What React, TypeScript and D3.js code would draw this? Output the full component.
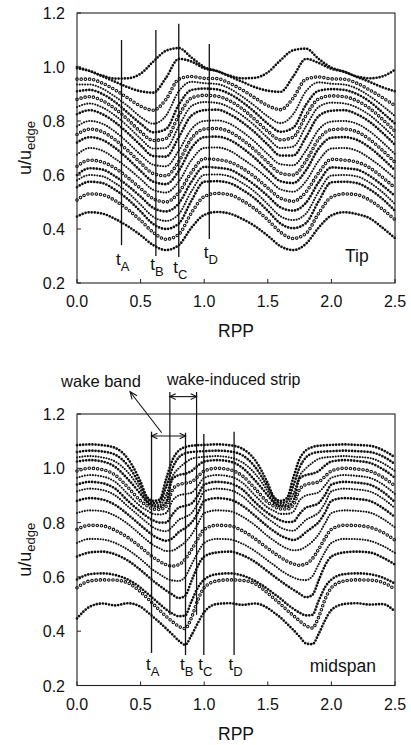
import React from 'react';
import * as d3 from 'd3';

// ---------- data ----------
const tipRpp = [0, 0.1, 0.2, 0.3, 0.4, 0.5, 0.6, 0.7, 0.8, 0.9, 1.0, 1.1, 1.2, 1.3, 1.4, 1.5, 1.6, 1.7, 1.8, 1.9, 2.0, 2.1, 2.2, 2.3, 2.4, 2.5];
const midRpp = [0, 0.1, 0.2, 0.3, 0.4, 0.5, 0.55, 0.6, 0.65, 0.7, 0.75, 0.8, 0.85, 0.9, 0.95, 1.0, 1.1, 1.2, 1.3, 1.4, 1.5, 1.55, 1.6, 1.65, 1.7, 1.75, 1.8, 1.85, 1.9, 1.95, 2.0, 2.1, 2.2, 2.3, 2.4, 2.5];

// Tip (top panel), top to bottom
const tip01 = [1.0, 0.985, 0.968, 0.957, 0.958, 0.975, 1.02, 1.06, 1.07, 1.035, 1.0, 0.985, 0.968, 0.958, 0.96, 0.98, 1.025, 1.062, 1.068, 1.03, 0.998, 0.982, 0.965, 0.958, 0.965, 0.99];
const tip02 = [0.995, 0.985, 0.965, 0.945, 0.925, 0.91, 0.905, 0.96, 1.03, 1.02, 0.995, 0.985, 0.965, 0.945, 0.925, 0.912, 0.908, 0.965, 1.03, 1.015, 0.993, 0.983, 0.963, 0.945, 0.925, 0.91];
const tip03 = [0.955, 0.955, 0.94, 0.915, 0.885, 0.855, 0.84, 0.88, 0.955, 0.965, 0.958, 0.957, 0.94, 0.915, 0.885, 0.857, 0.842, 0.885, 0.955, 0.963, 0.956, 0.955, 0.94, 0.915, 0.887, 0.857];
const tip04 = [0.935, 0.935, 0.92, 0.89, 0.855, 0.815, 0.79, 0.82, 0.91, 0.945, 0.94, 0.937, 0.92, 0.89, 0.855, 0.817, 0.792, 0.825, 0.91, 0.943, 0.938, 0.935, 0.92, 0.892, 0.857, 0.818];
const tip05 = [0.91, 0.915, 0.9, 0.87, 0.83, 0.79, 0.758, 0.77, 0.86, 0.915, 0.92, 0.917, 0.9, 0.87, 0.832, 0.79, 0.76, 0.775, 0.86, 0.912, 0.918, 0.915, 0.9, 0.872, 0.832, 0.79];
const tip06 = [0.88, 0.89, 0.875, 0.845, 0.805, 0.76, 0.728, 0.735, 0.82, 0.885, 0.895, 0.892, 0.875, 0.845, 0.805, 0.762, 0.73, 0.74, 0.82, 0.882, 0.893, 0.89, 0.875, 0.847, 0.807, 0.762];
const tip07 = [0.852, 0.865, 0.85, 0.82, 0.78, 0.735, 0.698, 0.7, 0.78, 0.855, 0.87, 0.867, 0.85, 0.82, 0.782, 0.737, 0.7, 0.705, 0.78, 0.852, 0.868, 0.865, 0.85, 0.822, 0.782, 0.737];
const tip08 = [0.825, 0.84, 0.825, 0.795, 0.755, 0.71, 0.67, 0.668, 0.74, 0.82, 0.84, 0.842, 0.825, 0.795, 0.757, 0.712, 0.672, 0.672, 0.74, 0.818, 0.838, 0.84, 0.825, 0.797, 0.757, 0.712];
const tip09 = [0.78, 0.8, 0.79, 0.76, 0.72, 0.675, 0.638, 0.632, 0.69, 0.77, 0.8, 0.802, 0.79, 0.76, 0.722, 0.677, 0.64, 0.636, 0.69, 0.768, 0.798, 0.8, 0.79, 0.762, 0.722, 0.677];
const tip10 = [0.75, 0.77, 0.76, 0.73, 0.69, 0.645, 0.605, 0.597, 0.65, 0.735, 0.77, 0.772, 0.76, 0.73, 0.692, 0.647, 0.607, 0.6, 0.652, 0.733, 0.768, 0.77, 0.76, 0.732, 0.692, 0.647];
const tip11 = [0.72, 0.74, 0.73, 0.7, 0.66, 0.615, 0.575, 0.566, 0.615, 0.7, 0.74, 0.742, 0.73, 0.7, 0.662, 0.617, 0.577, 0.57, 0.617, 0.698, 0.738, 0.74, 0.73, 0.702, 0.662, 0.617];
const tip12 = [0.675, 0.7, 0.69, 0.66, 0.625, 0.585, 0.545, 0.535, 0.575, 0.655, 0.7, 0.702, 0.69, 0.66, 0.627, 0.587, 0.547, 0.538, 0.577, 0.653, 0.698, 0.7, 0.69, 0.662, 0.627, 0.587];
const tip13 = [0.632, 0.655, 0.648, 0.625, 0.59, 0.55, 0.512, 0.5, 0.535, 0.61, 0.66, 0.657, 0.648, 0.625, 0.592, 0.552, 0.514, 0.503, 0.537, 0.608, 0.658, 0.655, 0.648, 0.627, 0.592, 0.552];
const tip14 = [0.6, 0.625, 0.62, 0.595, 0.56, 0.52, 0.478, 0.465, 0.495, 0.575, 0.63, 0.627, 0.62, 0.595, 0.562, 0.522, 0.48, 0.468, 0.497, 0.573, 0.628, 0.625, 0.62, 0.597, 0.562, 0.522];
const tip15 = [0.58, 0.6, 0.595, 0.57, 0.535, 0.49, 0.445, 0.43, 0.455, 0.54, 0.6, 0.602, 0.595, 0.57, 0.537, 0.492, 0.447, 0.433, 0.457, 0.538, 0.598, 0.6, 0.595, 0.572, 0.537, 0.492];
const tip16 = [0.555, 0.575, 0.57, 0.545, 0.51, 0.465, 0.418, 0.4, 0.42, 0.505, 0.575, 0.577, 0.57, 0.545, 0.512, 0.467, 0.42, 0.403, 0.422, 0.503, 0.573, 0.575, 0.57, 0.547, 0.512, 0.467];
const tip17 = [0.507, 0.53, 0.527, 0.505, 0.472, 0.432, 0.387, 0.362, 0.38, 0.46, 0.52, 0.532, 0.527, 0.505, 0.474, 0.434, 0.388, 0.365, 0.383, 0.458, 0.518, 0.53, 0.527, 0.507, 0.474, 0.434];
const tip18 = [0.446, 0.462, 0.457, 0.437, 0.41, 0.377, 0.34, 0.322, 0.34, 0.405, 0.452, 0.463, 0.457, 0.437, 0.41, 0.375, 0.336, 0.322, 0.345, 0.405, 0.45, 0.462, 0.455, 0.44, 0.405, 0.366];

// Midspan (bottom panel), top to bottom
const mid01 = [1.085, 1.088, 1.085, 1.075, 1.035, 0.95, 0.895, 0.88, 0.885, 0.96, 1.03, 1.065, 1.078, 1.083, 1.085, 1.086, 1.088, 1.085, 1.072, 1.03, 0.945, 0.893, 0.88, 0.89, 0.965, 1.035, 1.066, 1.078, 1.083, 1.085, 1.086, 1.088, 1.086, 1.083, 1.068, 1.04];
const mid02 = [1.06, 1.065, 1.062, 1.05, 1.01, 0.935, 0.89, 0.872, 0.875, 0.93, 1.0, 1.04, 1.055, 1.06, 1.062, 1.063, 1.065, 1.062, 1.048, 1.005, 0.93, 0.888, 0.872, 0.878, 0.935, 1.003, 1.04, 1.055, 1.06, 1.062, 1.063, 1.065, 1.063, 1.06, 1.045, 1.015];
const mid03 = [1.04, 1.045, 1.04, 1.025, 0.985, 0.92, 0.88, 0.865, 0.865, 0.9, 0.97, 1.0, 1.02, 1.035, 1.04, 1.042, 1.045, 1.04, 1.022, 0.98, 0.915, 0.878, 0.865, 0.867, 0.905, 0.972, 1.0, 1.02, 1.035, 1.04, 1.042, 1.045, 1.042, 1.038, 1.02, 0.99];
const mid04 = [1.025, 1.03, 1.025, 1.005, 0.96, 0.905, 0.875, 0.86, 0.858, 0.875, 0.96, 0.975, 0.98, 0.99, 1.01, 1.025, 1.03, 1.025, 1.002, 0.955, 0.9, 0.872, 0.86, 0.86, 0.88, 0.962, 0.975, 0.98, 0.99, 1.01, 1.025, 1.03, 1.027, 1.02, 0.998, 0.965];
const mid05 = [0.99, 1.0, 0.995, 0.975, 0.93, 0.88, 0.862, 0.85, 0.848, 0.86, 0.92, 0.94, 0.945, 0.95, 0.97, 0.99, 1.0, 0.995, 0.972, 0.925, 0.875, 0.86, 0.85, 0.85, 0.865, 0.922, 0.94, 0.945, 0.95, 0.97, 0.99, 1.0, 0.997, 0.99, 0.968, 0.935];
const mid06 = [0.965, 0.975, 0.97, 0.95, 0.905, 0.86, 0.845, 0.832, 0.83, 0.835, 0.88, 0.9, 0.905, 0.91, 0.935, 0.965, 0.975, 0.97, 0.947, 0.9, 0.855, 0.843, 0.832, 0.832, 0.84, 0.882, 0.9, 0.905, 0.912, 0.937, 0.965, 0.975, 0.972, 0.965, 0.942, 0.905];
const mid07 = [0.94, 0.95, 0.945, 0.925, 0.88, 0.84, 0.822, 0.808, 0.8, 0.8, 0.83, 0.855, 0.862, 0.87, 0.9, 0.94, 0.95, 0.945, 0.922, 0.875, 0.835, 0.82, 0.808, 0.802, 0.803, 0.832, 0.855, 0.862, 0.872, 0.902, 0.94, 0.95, 0.947, 0.94, 0.915, 0.875];
const mid08 = [0.915, 0.925, 0.92, 0.9, 0.86, 0.82, 0.8, 0.782, 0.772, 0.768, 0.785, 0.81, 0.82, 0.835, 0.87, 0.915, 0.925, 0.92, 0.897, 0.855, 0.815, 0.798, 0.782, 0.773, 0.77, 0.787, 0.81, 0.822, 0.837, 0.872, 0.915, 0.925, 0.922, 0.915, 0.89, 0.853];
const mid09 = [0.88, 0.89, 0.885, 0.865, 0.83, 0.79, 0.77, 0.752, 0.74, 0.733, 0.742, 0.765, 0.78, 0.8, 0.835, 0.88, 0.89, 0.885, 0.862, 0.825, 0.785, 0.768, 0.752, 0.742, 0.736, 0.745, 0.765, 0.782, 0.802, 0.837, 0.88, 0.89, 0.887, 0.88, 0.855, 0.82];
const mid10 = [0.835, 0.845, 0.842, 0.825, 0.795, 0.755, 0.735, 0.717, 0.705, 0.695, 0.697, 0.71, 0.728, 0.755, 0.795, 0.835, 0.845, 0.842, 0.822, 0.79, 0.75, 0.733, 0.717, 0.705, 0.698, 0.7, 0.712, 0.73, 0.757, 0.797, 0.835, 0.845, 0.843, 0.837, 0.815, 0.782];
const mid11 = [0.775, 0.79, 0.788, 0.772, 0.745, 0.71, 0.69, 0.672, 0.657, 0.645, 0.64, 0.645, 0.665, 0.7, 0.74, 0.775, 0.79, 0.788, 0.77, 0.74, 0.705, 0.688, 0.672, 0.658, 0.648, 0.643, 0.648, 0.667, 0.702, 0.742, 0.775, 0.79, 0.789, 0.783, 0.765, 0.735];
const mid12 = [0.725, 0.74, 0.738, 0.725, 0.7, 0.665, 0.645, 0.625, 0.61, 0.595, 0.587, 0.585, 0.6, 0.645, 0.69, 0.725, 0.74, 0.738, 0.722, 0.695, 0.66, 0.643, 0.625, 0.61, 0.598, 0.59, 0.588, 0.602, 0.647, 0.692, 0.725, 0.74, 0.739, 0.733, 0.715, 0.688];
const mid13 = [0.675, 0.69, 0.693, 0.683, 0.66, 0.625, 0.605, 0.585, 0.567, 0.55, 0.535, 0.522, 0.53, 0.585, 0.64, 0.675, 0.69, 0.693, 0.68, 0.655, 0.62, 0.602, 0.585, 0.568, 0.553, 0.538, 0.525, 0.533, 0.587, 0.642, 0.675, 0.69, 0.693, 0.69, 0.672, 0.645];
const mid14 = [0.59, 0.61, 0.613, 0.607, 0.59, 0.56, 0.54, 0.52, 0.5, 0.48, 0.465, 0.455, 0.458, 0.51, 0.56, 0.59, 0.61, 0.613, 0.605, 0.585, 0.555, 0.537, 0.52, 0.5, 0.483, 0.468, 0.458, 0.46, 0.512, 0.562, 0.59, 0.61, 0.613, 0.61, 0.598, 0.575];
const mid15 = [0.56, 0.585, 0.589, 0.588, 0.578, 0.545, 0.523, 0.5, 0.477, 0.455, 0.435, 0.418, 0.41, 0.45, 0.515, 0.56, 0.585, 0.589, 0.587, 0.575, 0.54, 0.52, 0.5, 0.478, 0.458, 0.438, 0.42, 0.412, 0.452, 0.517, 0.56, 0.585, 0.589, 0.588, 0.58, 0.555];
const mid16 = [0.447, 0.49, 0.502, 0.495, 0.503, 0.49, 0.472, 0.452, 0.432, 0.41, 0.388, 0.365, 0.35, 0.385, 0.43, 0.47, 0.5, 0.503, 0.497, 0.502, 0.485, 0.468, 0.45, 0.428, 0.405, 0.38, 0.355, 0.352, 0.39, 0.44, 0.478, 0.5, 0.503, 0.498, 0.5, 0.472];

const tipSeries = [tip01, tip02, tip03, tip04, tip05, tip06, tip07, tip08, tip09, tip10, tip11, tip12, tip13, tip14, tip15, tip16, tip17, tip18];
const tipKinds = ['f', 'f', 'o', 's', 'f', 'o', 's', 'f', 's', 'o', 'f', 's', 'o', 'f', 's', 'f', 'o', 'f'];
const midSeries = [mid01, mid02, mid03, mid04, mid05, mid06, mid07, mid08, mid09, mid10, mid11, mid12, mid13, mid14, mid15, mid16];
const midKinds = ['f', 'f', 's', 'f', 'o', 's', 'f', 's', 'f', 's', 'o', 's', 'f', 'f', 'o', 'f'];

const xTicks = [0, 0.5, 1.0, 1.5, 2.0, 2.5];
const yTicks = [0.2, 0.4, 0.6, 0.8, 1.0, 1.2];

// time markers: name, RPP, bottom value, top value, label baseline value
const tipMarkNames = ['A', 'B', 'C', 'D'];
const tipMarkX = [0.35, 0.62, 0.80, 1.04];
const tipMarkLo = [0.34, 0.30, 0.296, 0.363];
const tipMarkHi = [1.10, 1.137, 1.16, 1.085];
const tipMarkLabelY = [0.267, 0.248, 0.237, 0.293];

const midMarkNames = ['A', 'B', 'C', 'D'];
const midMarkX = [0.586, 0.853, 0.997, 1.235];
const midMarkLo = [0.32, 0.312, 0.312, 0.312];
const midMarkHi = [1.135, 1.131, 1.126, 1.135];
const midMarkLabelY = [0.257, 0.257, 0.257, 0.257];

const stripX = [0.73, 0.94];
const stripLo = 0.46;
const stripHi = 1.281;
const stripArrowY = 1.264;
const bandArrowY = 1.119;
const leaderFrom = [0.666, 1.131];
const leaderTo = [0.417, 1.282];

const FONT = '"Liberation Sans", Arial, Helvetica, sans-serif';

const xScale = d3.scaleLinear().domain([0, 2.5]).range([77, 395]);

function vHead(tx: number, ty: number, fx: number, fy: number, L = 6.5, ang = 0.45) {
  const a = Math.atan2(ty - fy, tx - fx);
  const p1 = [tx - L * Math.cos(a - ang), ty - L * Math.sin(a - ang)];
  const p2 = [tx - L * Math.cos(a + ang), ty - L * Math.sin(a + ang)];
  return `M${p1[0]},${p1[1]}L${tx},${ty}L${p2[0]},${p2[1]}`;
}

function DotCurve({ d, kind }: { d: string; kind: string }) {
  if (kind === 'o') {
    return (
      <g>
        <path d={d} fill="none" stroke="#111" strokeWidth={3.6} strokeDasharray="0 4.2" strokeLinecap="round" />
        <path d={d} fill="none" stroke="#fff" strokeWidth={1.5} strokeDasharray="0 4.2" strokeLinecap="round" />
      </g>
    );
  }
  if (kind === 's') {
    return <path d={d} fill="none" stroke="#111" strokeWidth={2.1} strokeDasharray="0 2.7" strokeLinecap="round" />;
  }
  return <path d={d} fill="none" stroke="#111" strokeWidth={2.7} strokeDasharray="0 3.1" strokeLinecap="round" />;
}

function Panel(props: {
  yTop: number; yBottom: number; xs: number[]; series: number[][]; kinds: string[];
  markNames: string[]; markX: number[]; markLo: number[]; markHi: number[]; markLabelY: number[];
  title: string; titleX: number; titleY: number;
}) {
  const { yTop, yBottom, xs, series, kinds, markNames, markX, markLo, markHi, markLabelY, title, titleX, titleY } = props;
  const y = d3.scaleLinear().domain([0.2, 1.2]).range([yBottom, yTop]);
  const line = d3.line<number>().x((_, i) => xScale(xs[i])).y((v) => y(v)).curve(d3.curveMonotoneX);
  const x0 = xScale(0), x1 = xScale(2.5);
  const yMid = (yTop + yBottom) / 2;
  return (
    <g>
      {series.map((s, i) => <DotCurve key={i} d={line(s) || ''} kind={kinds[i]} />)}
      <rect x={x0} y={yTop} width={x1 - x0} height={yBottom - yTop} fill="none" stroke="#222" strokeWidth={1.1} />
      {xTicks.map((t) => (
        <g key={'x' + t}>
          <line x1={xScale(t)} x2={xScale(t)} y1={yBottom} y2={yBottom - 4} stroke="#222" strokeWidth={1} />
          <text x={xScale(t)} y={yBottom + 24} textAnchor="middle" fontSize={16} fontFamily={FONT} fill="#111">{t.toFixed(1)}</text>
        </g>
      ))}
      {yTicks.map((t) => (
        <g key={'y' + t}>
          <line x1={x0} x2={x0 + 4} y1={y(t)} y2={y(t)} stroke="#222" strokeWidth={1} />
          <text x={65} y={y(t) + 6} textAnchor="end" fontSize={16} fontFamily={FONT} fill="#111">{t.toFixed(1)}</text>
        </g>
      ))}
      <text x={(x0 + x1) / 2} y={yBottom + 54} textAnchor="middle" fontSize={17.5} fontFamily={FONT} fill="#111">RPP</text>
      <text transform={`translate(31,${yMid}) rotate(-90)`} textAnchor="middle" fontSize={18} fontFamily={FONT} fill="#111">
        u/u<tspan fontSize={13} dy={4}>edge</tspan>
      </text>
      {markX.map((mx, i) => (
        <g key={'m' + i}>
          <line x1={xScale(mx)} x2={xScale(mx)} y1={y(markLo[i])} y2={y(markHi[i])} stroke="#111" strokeWidth={1.3} />
          <text x={xScale(mx) - 5.5} y={y(markLabelY[i])} fontSize={17} fontFamily={FONT} fill="#111">
            t<tspan fontSize={13} dy={6}>{markNames[i]}</tspan>
          </text>
        </g>
      ))}
      <text x={xScale(titleX)} y={y(titleY)} textAnchor="middle" fontSize={17.5} fontFamily={FONT} fill="#111">{title}</text>
    </g>
  );
}

export default function App() {
  const yB = d3.scaleLinear().domain([0.2, 1.2]).range([685.5, 414]);
  const sa = xScale(stripX[0]), sb = xScale(stripX[1]);
  const ba = xScale(midMarkX[0]), bb = xScale(midMarkX[1]);
  const sy = yB(stripArrowY), by = yB(bandArrowY);
  const lfx = xScale(leaderFrom[0]), lfy = yB(leaderFrom[1]);
  const ltx = xScale(leaderTo[0]), lty = yB(leaderTo[1]);
  return (
    <svg width={411} height={745} style={{ position: 'absolute', left: 0, top: 0, background: '#fff' }}>
      <rect x={0} y={0} width={411} height={745} fill="#fff" />
      <Panel yTop={13} yBottom={283} xs={tipRpp} series={tipSeries} kinds={tipKinds}
        markNames={tipMarkNames} markX={tipMarkX} markLo={tipMarkLo} markHi={tipMarkHi} markLabelY={tipMarkLabelY}
        title="Tip" titleX={2.2} titleY={0.278} />
      <Panel yTop={414} yBottom={685.5} xs={midRpp} series={midSeries} kinds={midKinds}
        markNames={midMarkNames} markX={midMarkX} markLo={midMarkLo} markHi={midMarkHi} markLabelY={midMarkLabelY}
        title="midspan" titleX={2.09} titleY={0.251} />
      {stripX.map((sx, i) => (
        <line key={'s' + i} x1={xScale(sx)} x2={xScale(sx)} y1={yB(stripLo)} y2={yB(stripHi)} stroke="#111" strokeWidth={1.2} />
      ))}
      <line x1={sa} x2={sb} y1={sy} y2={sy} stroke="#111" strokeWidth={1.1} />
      <path d={vHead(sa, sy, sb, sy) + vHead(sb, sy, sa, sy)} fill="none" stroke="#111" strokeWidth={1.1} />
      <line x1={ba} x2={bb} y1={by} y2={by} stroke="#111" strokeWidth={1.1} />
      <path d={vHead(ba, by, bb, by) + vHead(bb, by, ba, by)} fill="none" stroke="#111" strokeWidth={1.1} />
      <line x1={lfx} y1={lfy} x2={ltx} y2={lty} stroke="#111" strokeWidth={1.1} />
      <path d={vHead(ltx, lty, lfx, lfy, 8, 0.4)} fill="none" stroke="#111" strokeWidth={1.1} />
      <text x={101} y={387} textAnchor="middle" fontSize={16.5} fontFamily={FONT} fill="#111">wake band</text>
      <text x={167} y={385} fontSize={16} fontFamily={FONT} fill="#111">wake-induced strip</text>
    </svg>
  );
}
